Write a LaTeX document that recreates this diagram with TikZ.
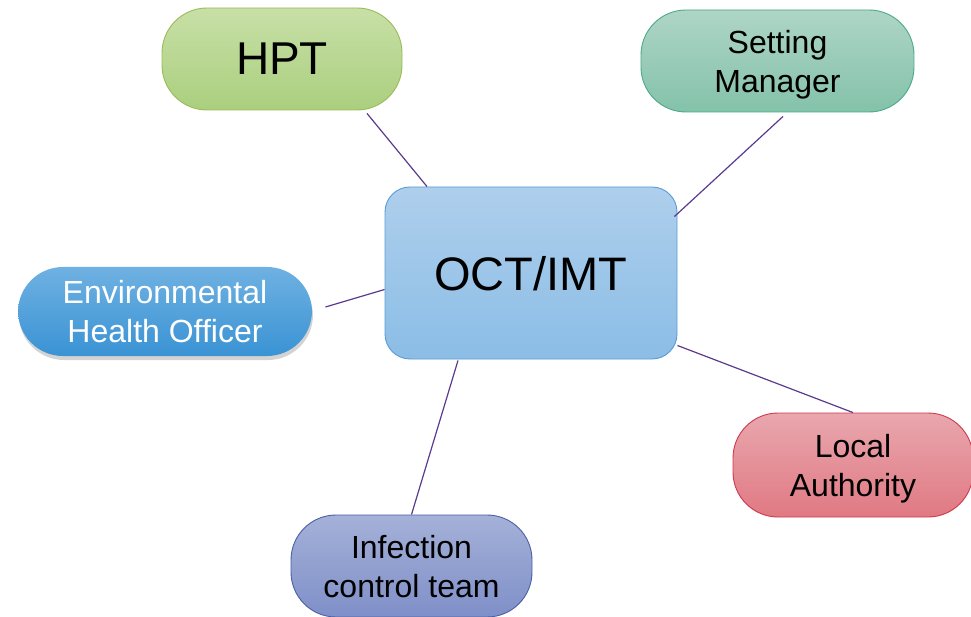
\documentclass[tikz,border=0pt]{standalone}
\usepackage{fontspec}
\setmainfont{Liberation Sans}
\usetikzlibrary{shapes,positioning,shadows,calc}

\definecolor{hptTop}{HTML}{C8E0A7}
\definecolor{hptBot}{HTML}{AACF7E}
\definecolor{hptLine}{HTML}{9BBB59}
\definecolor{setTop}{HTML}{AED5C6}
\definecolor{setBot}{HTML}{84C2AA}
\definecolor{setLine}{HTML}{4BAA88}
\definecolor{octTop}{HTML}{AECFEC}
\definecolor{octBot}{HTML}{8BBDE6}
\definecolor{octLine}{HTML}{5B9BD5}
\definecolor{ehoTop}{HTML}{6FB1E2}
\definecolor{ehoBot}{HTML}{3A93D4}
\definecolor{laTop}{HTML}{E9A7AE}
\definecolor{laBot}{HTML}{E07983}
\definecolor{laLine}{HTML}{D0384D}
\definecolor{ictTop}{HTML}{A5B1D8}
\definecolor{ictBot}{HTML}{7F8FC8}
\definecolor{ictLine}{HTML}{4A5FA6}
\definecolor{linkPurple}{HTML}{5B3A8E}

\begin{document}
\begin{tikzpicture}[
    x=1pt, y=-1pt,
    role/.style={rectangle, rounded corners=45pt, line width=0.9pt, inner sep=0pt, align=center, text depth=-3pt, font=\fontsize{32}{39}\selectfont},
    link/.style={draw=linkPurple, line width=1.2pt}
]
\useasboundingbox (0,0) rectangle (971,617);

\node[role, draw=hptLine, top color=hptTop, bottom color=hptBot, minimum width=240pt, minimum height=102pt, text depth=0pt, font=\fontsize{46}{50}\selectfont] (hpt) at (282,59) {HPT};
\node[role, draw=setLine, top color=setTop, bottom color=setBot, minimum width=273pt, minimum height=102pt] (setting) at (777.5,61) {Setting\\Manager};
\node[role, draw=octLine, top color=octTop, bottom color=octBot, rounded corners=25pt, minimum width=292pt, minimum height=172pt, text depth=0pt, font=\fontsize{47}{50}\selectfont] (oct) at (531,273) {OCT/IMT};
\node[role, top color=ehoTop, bottom color=ehoBot, text=white, minimum width=294pt, minimum height=89pt, text depth=-1pt, drop shadow={shadow xshift=1pt, shadow yshift=-4pt, opacity=0.35}] (eho) at (165,311.5) {Environmental\\Health Officer};
\node[role, draw=laLine, top color=laTop, bottom color=laBot, minimum width=240pt, minimum height=104pt] (local) at (853,465) {Local\\Authority};
\node[role, draw=ictLine, top color=ictTop, bottom color=ictBot, minimum width=241pt, minimum height=102pt, text depth=-8pt] (ict) at (411.5,566) {Infection\\control team};

\draw[link] ([shift={(85,3)}]hpt.south) -- ([shift={(-104,0)}]oct.north);
\draw[link] ([shift={(5.5,4)}]setting.south) -- ([shift={(-3,-56.5)}]oct.east);
\draw[link] ([shift={(13,-4.5)}]eho.east) -- ([shift={(0,16.5)}]oct.west);
\draw[link] ([shift={(0,72.5)}]oct.east) -- (local.north);
\draw[link] ([shift={(-73,1)}]oct.south) -- (ict.north);

\end{tikzpicture}
\end{document}
